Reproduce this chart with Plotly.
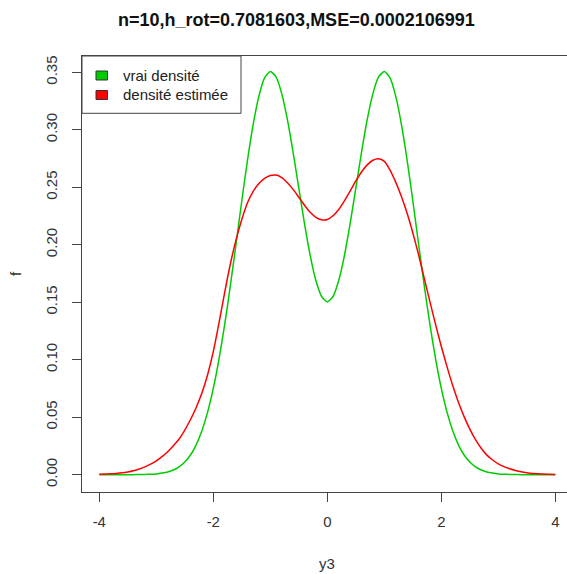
import plotly.graph_objects as go

# Values (step 0.1 on y3, from -4 to 4)
x_vals = [round(-4.0 + 0.1 * i, 1) for i in range(81)]
vrai_densite = [
    0.0, 0.0, 0.0, 0.0, 0.0, 0.00002, 0.00005, 0.0001, 0.0002, 0.0004,   # -4.0 .. -3.1
    0.0007, 0.0014, 0.0024, 0.0041, 0.0068, 0.0110, 0.0171, 0.0260, 0.0382, 0.0544,  # -3.0 .. -2.1
    0.0751, 0.1006, 0.1307, 0.1647, 0.2011, 0.2383, 0.2737, 0.3048, 0.3293, 0.3451,  # -2.0 .. -1.1
    0.3507, 0.3460, 0.3315, 0.3088, 0.2804, 0.2492, 0.2183, 0.1906, 0.1689, 0.1550,  # -1.0 .. -0.1
    0.1502,                                                                            # 0.0
    0.1550, 0.1689, 0.1906, 0.2183, 0.2492, 0.2804, 0.3088, 0.3315, 0.3460, 0.3507,  # 0.1 .. 1.0
    0.3451, 0.3293, 0.3048, 0.2737, 0.2383, 0.2011, 0.1647, 0.1307, 0.1006, 0.0751,  # 1.1 .. 2.0
    0.0544, 0.0382, 0.0260, 0.0171, 0.0110, 0.0068, 0.0041, 0.0024, 0.0014, 0.0007,  # 2.1 .. 3.0
    0.0004, 0.0002, 0.0001, 0.00005, 0.00002, 0.0, 0.0, 0.0, 0.0, 0.0,               # 3.1 .. 4.0
]
densite_estimee = [
    0.0003, 0.0005, 0.0008, 0.0011, 0.0016, 0.0024, 0.0035, 0.0050, 0.0068, 0.0092,  # -4.0 .. -3.1
    0.0120, 0.0157, 0.0200, 0.0251, 0.0310, 0.0388, 0.0480, 0.0585, 0.0710, 0.0870,  # -3.0 .. -2.1
    0.1070, 0.1320, 0.1585, 0.1835, 0.2045, 0.2220, 0.2365, 0.2465, 0.2532, 0.2577,  # -2.0 .. -1.1
    0.2602, 0.2607, 0.2585, 0.2540, 0.2482, 0.2413, 0.2344, 0.2283, 0.2239, 0.2218,  # -1.0 .. -0.1
    0.2220,                                                                            # 0.0
    0.2252, 0.2307, 0.2382, 0.2467, 0.2555, 0.2633, 0.2695, 0.2735, 0.2748, 0.2725,  # 0.1 .. 1.0
    0.2650, 0.2545, 0.2420, 0.2275, 0.2105, 0.1915, 0.1710, 0.1505, 0.1305, 0.1115,  # 1.1 .. 2.0
    0.0940, 0.0775, 0.0630, 0.0505, 0.0397, 0.0305, 0.0230, 0.0170, 0.0128, 0.0095,  # 2.1 .. 3.0
    0.0070, 0.0052, 0.0037, 0.0025, 0.0017, 0.0011, 0.0008, 0.0005, 0.0003, 0.0002,  # 3.1 .. 4.0
]

series_names = ["vrai densité", "densité estimée"]
series_colors = ["#00CD00", "#FF0000"]
x_ticks = [-4, -2, 0, 2, 4]
x_tick_text = ["-4", "-2", "0", "2", "4"]
y_ticks = [0.0, 0.05, 0.10, 0.15, 0.20, 0.25, 0.30, 0.35]
title_text = "n=10,h_rot=0.7081603,MSE=0.0002106991"
x_label = "y3"
y_label = "f"

FONT = "Liberation Sans, Arial, sans-serif"

fig = go.Figure()
for name, ys, col in zip(series_names, [vrai_densite, densite_estimee], series_colors):
    fig.add_trace(go.Scatter(x=x_vals, y=ys, mode="lines", name=name,
                             line=dict(color=col, width=1.5, shape="spline", smoothing=0.6),
                             showlegend=False))

W, H = 567, 574
L, R, T, B = 82, 0, 56, 82
pw, ph = W - L - R, H - T - B

def px(xp):
    return (xp - L) / pw

def py(yp):
    return (H - B - yp) / ph

shapes = []
annotations = []
# legend box
shapes.append(dict(type="rect", xref="paper", yref="paper", x0=0, x1=px(241), y0=py(113.3), y1=1,
                   line=dict(color="#444", width=1), fillcolor="white", layer="above"))
legend_y = [75.5, 95]
for name, col, yc in zip(series_names, series_colors, legend_y):
    shapes.append(dict(type="rect", xref="paper", yref="paper", x0=px(96), x1=px(107.5),
                       y0=py(yc + 4.5), y1=py(yc - 4.5), line=dict(color="#333", width=1),
                       fillcolor=col, layer="above"))
    annotations.append(dict(text=name, xref="paper", yref="paper", x=px(121), y=py(yc),
                            xanchor="left", yanchor="middle", showarrow=False,
                            font=dict(family=FONT, size=15, color="#222")))

annotations.append(dict(text="<b>" + title_text + "</b>", xref="paper", yref="paper",
                        x=px(296.7), y=py(20), xanchor="center", yanchor="middle", showarrow=False,
                        font=dict(family=FONT, size=18, color="#111")))
annotations.append(dict(text=x_label, xref="x", yref="paper", x=0, y=py(563),
                        xanchor="center", yanchor="middle", showarrow=False,
                        font=dict(family=FONT, size=15, color="#333")))
annotations.append(dict(text=y_label, xref="paper", yref="paper", x=px(15), y=py(274),
                        xanchor="center", yanchor="middle", showarrow=False, textangle=-90,
                        font=dict(family=FONT, size=15, color="#333")))

fig.update_layout(
    width=W, height=H,
    margin=dict(l=L, r=R, t=T, b=B, pad=0),
    paper_bgcolor="white", plot_bgcolor="white",
    shapes=shapes, annotations=annotations,
    font=dict(family=FONT, size=15, color="#333"),
)
fig.update_xaxes(range=[-4.3035, 4.205], tickvals=x_ticks, ticktext=x_tick_text, ticks="outside",
                 ticklen=9, tickcolor="#444", showline=True, linecolor="#444", linewidth=1,
                 mirror=True, showgrid=False, zeroline=False, tickfont=dict(size=15, color="#333"),
                 ticklabelstandoff=7)
fig.update_yaxes(range=[-0.01505, 0.3642], tickvals=y_ticks, tickformat=".2f", ticks="outside",
                 ticklen=9, tickcolor="#444", showline=True, linecolor="#444", linewidth=1,
                 showgrid=False, zeroline=False, tickangle=-90, tickfont=dict(size=15, color="#333"),
                 ticklabelstandoff=9)

fig.write_html("out.html")
